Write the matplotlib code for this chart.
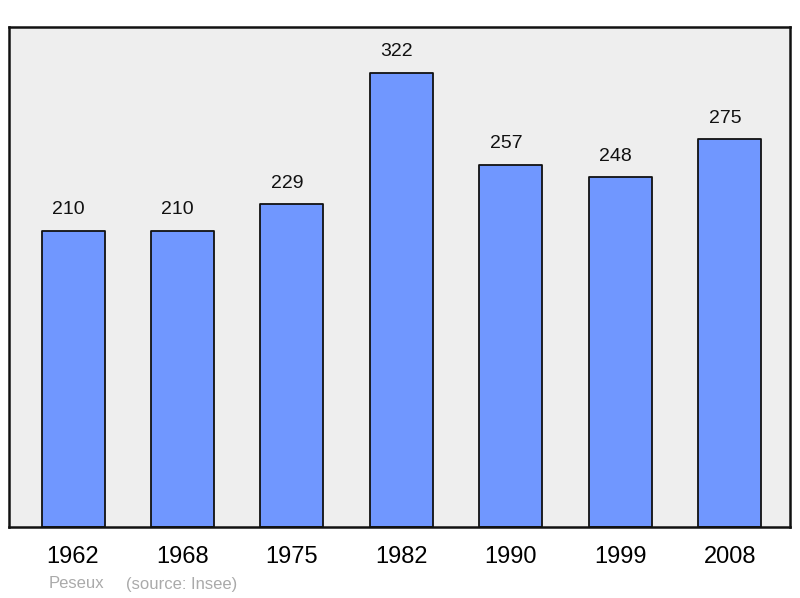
import matplotlib.pyplot as plt

plt.rcParams["font.family"] = ["Liberation Sans", "DejaVu Sans"]

years = ["1962", "1968", "1975", "1982", "1990", "1999", "2008"]
population = [210, 210, 229, 322, 257, 248, 275]

fig = plt.figure(figsize=(8, 5.98), dpi=100)
ax = fig.add_axes([9 / 800, 71 / 598, 781 / 800, 500 / 598])
ax.set_facecolor("#eeeeee")

x = list(range(len(years)))
ax.bar(x, population, width=0.575, color="#7097ff", edgecolor="#111111",
       linewidth=1.3, joinstyle="round", zorder=2)

for xi, v in zip(x, population):
    ax.annotate(str(v), (xi, v), xytext=(-3.5, 9), textcoords="offset points",
                ha="center", va="bottom", fontsize=14, color="#111111")

ax.set_xlim(-0.585, 6.55)
ax.set_ylim(0, 354.6)
ax.set_xticks(x)
ax.set_xticklabels(years, fontsize=17)
ax.tick_params(axis="x", length=0, pad=14)
ax.set_yticks([])
for s in ax.spines.values():
    s.set_linewidth(1.8)
    s.set_color("#111111")

fig.text(49 / 800, 1 - 584 / 598, "Peseux", fontsize=12, color="#aaaaaa", va="center")
fig.text(126 / 800, 1 - 584 / 598, "(source: Insee)", fontsize=12, color="#aaaaaa", va="center")

fig.savefig("out.png", dpi=100)
